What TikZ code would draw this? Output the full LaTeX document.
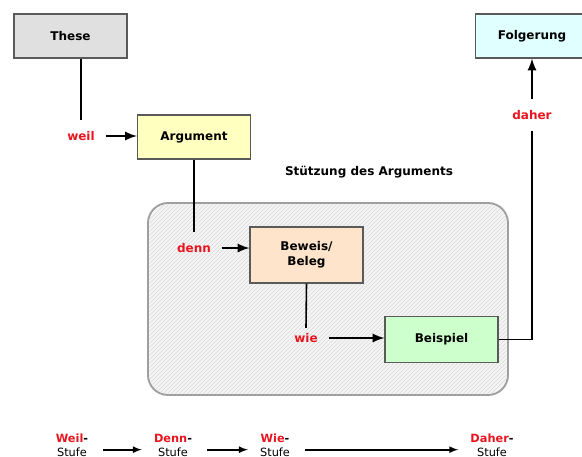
\documentclass[tikz,border=0pt]{standalone}
\usepackage{fontspec}
\setmainfont{DejaVu Sans}
\usetikzlibrary{arrows,positioning,patterns}
\definecolor{linkred}{RGB}{232,20,30}
\definecolor{boxline}{RGB}{90,90,90}
\tikzset{
arg_box/.style={
	% The shape:
	rectangle,
	% The size (px of the drawing, 1px = 0.75pt):
	minimum width=84.75pt,
	minimum height=33pt,
	% The border:
	draw=boxline,
	line width=0.8pt,
	% Font
	font=\fontsize{9}{11}\selectfont\bfseries,
	align=center
},
link_word/.style={
	text=linkred,
	font=\fontsize{9}{11}\selectfont\bfseries,
	inner xsep=8pt,
	inner ysep=8pt
},
stage/.style={
	font=\fontsize{8.5}{10.5}\selectfont,
	align=center,
	inner sep=1pt
},
plain_line/.style={-,line width=1.2pt},
thick_arrow/.style={->,line width=2pt},
stage_arrow/.style={->,line width=1.3pt}
}

\begin{document}
\begin{tikzpicture}[>=latex,x=0.75pt,y=-0.75pt]
			\useasboundingbox (0,0) rectangle (582,457);
			\clip (0,0) rectangle (582,457);
			% grey hatched region round Beweis and Beispiel
			\node[draw=gray!75,line width=1.4pt,rounded corners=15pt,fill=gray!8,
				minimum width=270pt,minimum height=144pt] (support) at (328,299) {};
			\node[rounded corners=15pt,pattern=north east lines,pattern color=gray!30,
				minimum width=268pt,minimum height=142pt] at (support.center) {};
			\node[font=\fontsize{9}{11}\selectfont\bfseries] (supporttitle) at (369,172) {Stützung des Arguments};

			\node[arg_box,fill={rgb,255:red,224;green,224;blue,224}] (these) at (70.5,36) {These};
			\node[arg_box,fill={rgb,255:red,255;green,255;blue,192}] (argument) at (194,137) {Argument};
			\node[arg_box,fill={rgb,255:red,253;green,228;blue,202},minimum height=42pt] (beweis) at (306.5,255) {Beweis/\\Beleg};
			\node[arg_box,fill={rgb,255:red,204;green,255;blue,204},minimum height=34pt] (beispiel) at (441.5,339.5) {Beispiel};
			\node[arg_box,fill={rgb,255:red,224;green,255;blue,255}] (folgerung) at (532,36) {Folgerung};

			\node[link_word] (weil) at (81,136) {weil};
			\node[link_word] (denn) at (194,248) {denn};
			\node[link_word,inner ysep=4pt] (wie) at (306,338) {wie};
			\node[link_word] (daher) at (532,115) {daher};

			\draw[plain_line] (weil |- these.south) -- (weil.north);
			\draw[thick_arrow] (weil.east) -- (weil.east -| argument.west);
			\draw[plain_line] (argument.south) -- (denn.north);
			\draw[thick_arrow] (denn.east) -- (denn.east -| beweis.west);
			\draw[plain_line] (beweis.south) -- (wie.north);
			\draw[thick_arrow] (wie.east) -- (wie.east -| beispiel.west);
			\draw[plain_line] (beispiel.east) -| (daher.south);
			\draw[thick_arrow] (daher.north) -- (folgerung.south);

			% the stages along the bottom
			\node[stage] (weilstufe) at (72,445) {\textbf{\textcolor{linkred}{Weil}-}\\Stufe};
			\node[stage] (dennstufe) at (173,445) {\textbf{\textcolor{linkred}{Denn}-}\\Stufe};
			\node[stage] (wiestufe) at (275,445) {\textbf{\textcolor{linkred}{Wie}-}\\Stufe};
			\node[stage] (daherstufe) at (492,445) {\textbf{\textcolor{linkred}{Daher}-}\\Stufe};

			\draw[stage_arrow,shorten <=10pt,shorten >=8pt] ([yshift=-3.5pt]weilstufe.east) -- ([yshift=-3.5pt]dennstufe.west);
			\draw[stage_arrow,shorten <=10pt,shorten >=8pt] ([yshift=-3.5pt]dennstufe.east) -- ([yshift=-3.5pt]wiestufe.west);
			\draw[stage_arrow,shorten <=10pt,shorten >=8pt] ([yshift=-3.5pt]wiestufe.east) -- ([yshift=-3.5pt]daherstufe.west);
		\end{tikzpicture}
\end{document}
